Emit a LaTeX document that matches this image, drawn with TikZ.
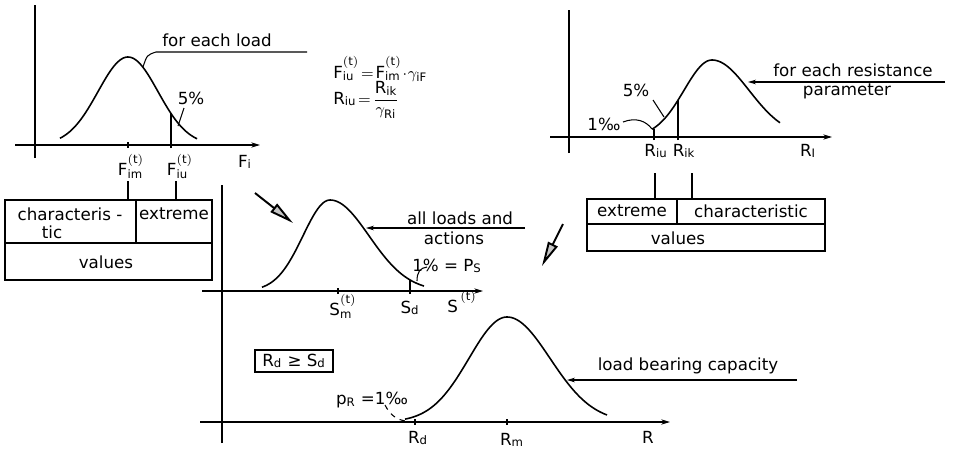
\documentclass[tikz,border=0pt]{standalone}
\usepackage{fontspec}
\setmainfont{DejaVu Sans}
\usetikzlibrary{arrows.meta}
\newcommand{\mr}[1]{\mathrm{#1}}
\begin{document}
\begin{tikzpicture}[x=0.02cm,y=-0.02cm, line width=0.6pt,
  lbl/.style={font=\fontsize{9.5}{11}\selectfont, inner sep=1pt},
  curve/.style={line width=0.9pt},
  axis/.style={line width=0.6pt},
  axarrow/.style={-{Stealth[length=5pt,width=3pt]}},
  lead/.style={-{Stealth[length=4.5pt,width=2.6pt]}},
  bigarrow/.style={line width=1.1pt,-{Triangle[length=14pt,width=6pt,fill=gray!45]}},
  boxline/.style={line width=0.7pt}]
\useasboundingbox (0,0) rectangle (957,450);

% ================= top-left graph =================
\coordinate (tlYa) at (35,158); \coordinate (tlYb) at (35,5);
\draw[axis] (tlYa) -- (tlYb);
\coordinate (tlXa) at (15,145); \coordinate (tlXb) at (260,145);
\draw[axis,axarrow] (tlXa) -- (tlXb);
\draw[curve] plot[domain=60:197,samples=70,smooth] (\x,{145-88*exp(-0.5*(((\x-128)/30)^2))});
\draw (128,142) -- (128,148);
\draw (171,148) -- (171,113.5);
\coordinate (ldA) at (143,67); \coordinate (ldB) at (156,52); \coordinate (ldC) at (307,52);
\draw (ldA) .. controls (147,55) .. (ldB) -- (ldC);
\node[lbl] (tload) at (217,40) {for each load};
\node[lbl] (tl5) at (191,98) {5\%};
\coordinate (tl5a) at (178,126); \coordinate (tl5b) at (184,108);
\draw (tl5a) -- (tl5b);
\node[lbl] (fim) at (131,166) {$\mr{F}^{\mr{(t)}}_{\mr{im}}$};
\node[lbl] (fiu) at (180,166) {$\mr{F}^{\mr{(t)}}_{\mr{iu}}$};
\node[lbl] (fi) at (245,162) {$\mr{F}_{\mr{i}}$};

% left box
\draw[boxline] (5,200) rectangle (212,280);
\draw[boxline] (5,243) -- (212,243);
\draw[boxline] (136,200) -- (136,243);
\node[lbl] (lchar) at (70,214) {characteris -};
\node[lbl] (ltic) at (52,232) {tic};
\node[lbl] (lext) at (174,214) {extreme};
\node[lbl] (lval) at (106,262) {values};
\coordinate (lc1) at (128,181); \coordinate (lc2) at (128,200);
\coordinate (lc3) at (176,181); \coordinate (lc4) at (176,200);
\draw (lc1) -- (lc2); \draw (lc3) -- (lc4);

% formulas
\node[lbl,anchor=west] (form1) at (331,69) {$\mr{F}^{\mr{(t)}}_{\mr{iu}}\!=\!\mr{F}^{\mr{(t)}}_{\mr{im}}\!\cdot\!\gamma_{\mr{iF}}$};
\node[lbl,anchor=west] (form2) at (331,100) {$\displaystyle \mr{R}_{\mr{iu}}\!=\!\frac{\mr{R}_{\mr{ik}}}{\gamma_{\mr{Ri}}}$};

% ================= top-right graph =================
\coordinate (trYa) at (569,153); \coordinate (trYb) at (569,10);
\draw[axis] (trYa) -- (trYb);
\coordinate (trXa) at (550,137); \coordinate (trXb) at (832,137);
\draw[axis,axarrow] (trXa) -- (trXb);
\draw[curve] plot[domain=652:712,samples=40,smooth] (\x,{137-77*exp(-0.5*(((\x-712)/28)^2))})
  -- plot[domain=712:780,samples=40,smooth] (\x,{137-77*exp(-0.5*(((\x-712)/37)^2))});
\draw (654,140) -- (654,129);
\draw (678,140) -- (678,100);
\coordinate (rpA) at (945,82); \coordinate (rpB) at (748,82);
\draw[lead] (rpA) -- (rpB);
\node[lbl] (tres) at (853,70) {for each resistance};
\node[lbl] (tpar) at (847,91) {parameter};
\node[lbl] (tr5) at (636,90) {5\%};
\coordinate (tr5a) at (653,100); \coordinate (tr5b) at (664,117);
\draw (tr5a) -- (tr5b);
\node[lbl] (tr1) at (604,124) {1‰};
\coordinate (tr1a) at (623,122); \coordinate (tr1b) at (652,129);
\draw (tr1a) .. controls (636,117) and (646,121) .. (tr1b);
\node[lbl] (riu) at (656,151) {$\mr{R}_{\mr{iu}}$};
\node[lbl] (rik) at (684,151) {$\mr{R}_{\mr{ik}}$};
\node[lbl] (ri) at (808,151) {$\mr{R}_{\mr{I}}$};

% right box
\draw[boxline] (587,199) rectangle (825,251);
\draw[boxline] (587,224) -- (825,224);
\draw[boxline] (677,199) -- (677,224);
\node[lbl] (rext) at (632,211) {extreme};
\node[lbl] (rchar) at (751,211) {characteristic};
\node[lbl] (rval) at (678,238) {values};
\coordinate (rc1) at (655,173); \coordinate (rc2) at (655,199);
\coordinate (rc3) at (692,173); \coordinate (rc4) at (692,199);
\draw (rc1) -- (rc2); \draw (rc3) -- (rc4);

% big arrows
\coordinate (baA) at (255,193); \coordinate (baB) at (293,223);
\draw[bigarrow] (baA) -- (baB);
\coordinate (bbA) at (563,224); \coordinate (bbB) at (542,266);
\draw[bigarrow] (bbA) -- (bbB);

% ================= middle graph =================
\coordinate (mYa) at (222,443); \coordinate (mYb) at (222,185);
\draw[axis] (mYa) -- (mYb);
\coordinate (mXa) at (202,291); \coordinate (mXb) at (483,291);
\draw[axis,axarrow] (mXa) -- (mXb);
\draw[curve] plot[domain=262:330,samples=40,smooth] (\x,{291-91*exp(-0.5*(((\x-330)/27)^2))})
  -- plot[domain=330:424,samples=50,smooth] (\x,{291-91*exp(-0.5*(((\x-330)/39)^2))});
\draw (338,288) -- (338,294);
\draw (410,294) -- (410,280);
\coordinate (alA) at (525,228); \coordinate (alB) at (366,228);
\draw[lead] (alA) -- (alB);
\node[lbl] (tall) at (460,218) {all loads and};
\node[lbl] (tact) at (454,238) {actions};
\node[lbl] (tps) at (447,266) {1\% = $\mr{P}_{\mr{S}}$};
\coordinate (psA) at (417,281); \coordinate (psB) at (427,267);
\draw (psA) .. controls (417,272) and (420,268) .. (psB);
\node[lbl] (sm) at (343,306) {$\mr{S}_{\mr{m}}^{\mr{(t)}}$};
\node[lbl] (sd) at (410,308) {$\mr{S}_{\mr{d}}$};
\node[lbl] (st) at (462,302) {$\mr{S}^{\,\mr{(t)}}$};

% ================= bottom graph =================
\coordinate (bXa) at (200,422); \coordinate (bXb) at (670,422);
\draw[axis,axarrow] (bXa) -- (bXb);
\draw[curve] plot[domain=405:507,samples=50,smooth] (\x,{422-105*exp(-0.5*(((\x-507)/38)^2))})
  -- plot[domain=507:607,samples=50,smooth] (\x,{422-105*exp(-0.5*(((\x-507)/43)^2))});
\draw (415,419) -- (415,425);
\draw (507,419) -- (507,425);
\coordinate (lbA) at (797,380); \coordinate (lbB) at (567,380);
\draw[lead] (lbA) -- (lbB);
\node[lbl] (tlbc) at (688,366) {load bearing capacity};
\node[lbl,draw,boxline,minimum width=78*0.02cm,minimum height=22*0.02cm] (cond) at (294,361) {$\mr{R}_{\mr{d}}$ ≥ $\mr{S}_{\mr{d}}$};
\node[lbl] (pr) at (372,400) {$\mr{p}_{\mr{R}}$ =1‰};
\coordinate (prA) at (385,405); \coordinate (prB) at (406,421);
\draw[dashed] (prA) .. controls (390,415) and (397,420) .. (prB);
\node[lbl] (rd) at (418,438) {$\mr{R}_{\mr{d}}$};
\node[lbl] (rm) at (512,440) {$\mr{R}_{\mr{m}}$};
\node[lbl] (rr) at (648,437) {R};
\end{tikzpicture}
\end{document}
